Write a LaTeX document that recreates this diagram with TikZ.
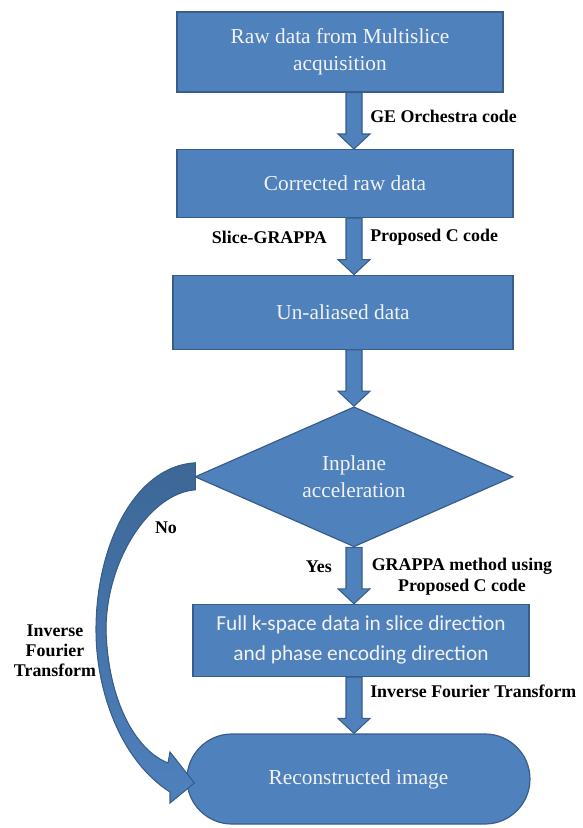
\documentclass[tikz,border=0pt]{standalone}
\usepackage{fontspec}
\setmainfont{Liberation Serif}
\newfontfamily\calibri{Carlito}
\usepackage{tikz}
\usetikzlibrary{positioning,calc,shapes.geometric,shapes.misc}
\usepackage{xcolor}
\definecolor{boxblue}{HTML}{4F81BD}
\definecolor{edgeblue}{HTML}{385D8A}
\definecolor{darkarrow}{HTML}{3C6797}
\definecolor{boxtext}{HTML}{F2F2F2}

% block arrow pointing down, drawn at the x of the end point
\newcommand\blockarrow[2]{%
  \filldraw[blockarr] let \p1=(#1), \p2=(#2) in
    (\x2-6pt,\y1) -- (\x2-6pt,\y2+11.25pt) -- (\x2-12pt,\y2+11.25pt) -- (\x2,\y2)
    -- (\x2+12pt,\y2+11.25pt) -- (\x2+6pt,\y2+11.25pt) -- (\x2+6pt,\y1) -- cycle;}

\begin{document}
\begin{tikzpicture}[x=0.75pt,y=-0.75pt,node distance=42.3pt,
      stepbox/.style={draw=edgeblue,fill=boxblue,line width=0.9pt,align=center,
        text=boxtext,font=\fontsize{16pt}{20pt}\selectfont,inner sep=0pt},
      decide/.style={stepbox,diamond,aspect=2.27,minimum width=238.5pt,minimum height=105pt},
      ending/.style={stepbox,rounded rectangle,minimum width=257.25pt,minimum height=67.5pt},
      lbl/.style={font=\bfseries\fontsize{13.4pt}{15.75pt}\selectfont,inner sep=0pt,align=center},
      blockarr/.style={draw=edgeblue,fill=boxblue,line width=0.8pt}]
    \useasboundingbox (0,0) rectangle (582,828);
    \node[stepbox,minimum width=244.5pt,minimum height=60pt] (b1) at (340,52)
      {Raw data from Multislice\\acquisition};
    \node[stepbox,minimum width=252pt,minimum height=51pt,below=of b1,xshift=3.75pt] (b2)
      {Corrected raw data};
    \node[stepbox,minimum width=255pt,minimum height=55.5pt,below=of b2,xshift=-1.5pt] (b3)
      {Un-aliased data};
    \node[decide,below=of b3,xshift=8.25pt] (d)
      {Inplane\\acceleration};
    \node[stepbox,minimum width=252pt,minimum height=54pt,below=of d,xshift=5.25pt,
          font=\calibri\fontsize{16pt}{22.5pt}\selectfont] (b4)
      {Full k-space data in slice direction\\and phase encoding direction};
    \node[ending,below=of b4,xshift=-1.9pt] (s)
      {Reconstructed image};

    \blockarrow{b1.south -| d.north}{b2.north -| d.north}
    \blockarrow{b2.south -| d.north}{b3.north -| d.north}
    \blockarrow{b3.south -| d.north}{d.north}
    \blockarrow{d.south}{b4.north -| d.south}
    \blockarrow{b4.south -| d.south}{s.north -| d.south}

    % the "No" branch
    \coordinate (nostart) at (d.west);
    \coordinate (noend) at (s.west);
    \filldraw[draw=edgeblue,line width=0.8pt,top color=darkarrow,bottom color=boxblue]
      ($(nostart)+(1,-14)$) .. controls (135,466) and (96,545) .. (96,630)
      .. controls (96,690) and (120,760) .. (170,792) -- (170,803)
      -- ($(noend)+(8,4)$) -- (170,752) -- (168,763)
      .. controls (135,750) and (108,700) .. (106,630)
      .. controls (106,560) and (150,493) .. ($(nostart)+(1,13)$) -- cycle;

    \node[lbl,anchor=west] (l1) at (370,116) {GE Orchestra code};
    \node[lbl,anchor=east] (l2) at (327,237) {Slice-GRAPPA};
    \node[lbl,anchor=west] (l3) at (370,237) {Proposed C code};
    \node[lbl] (l4) at (166,528) {No};
    \node[lbl,anchor=east] (l5) at (332,567) {Yes};
    \node[lbl] (l6) at (462,577) {GRAPPA method using\\Proposed C code};
    \node[lbl,anchor=west] (l7) at (370,691) {Inverse Fourier Transform};
    \node[lbl,font=\bfseries\fontsize{13.4pt}{15pt}\selectfont] (l8) at (55,651)
      {Inverse\\Fourier\\Transform};
  \end{tikzpicture}
\end{document}
